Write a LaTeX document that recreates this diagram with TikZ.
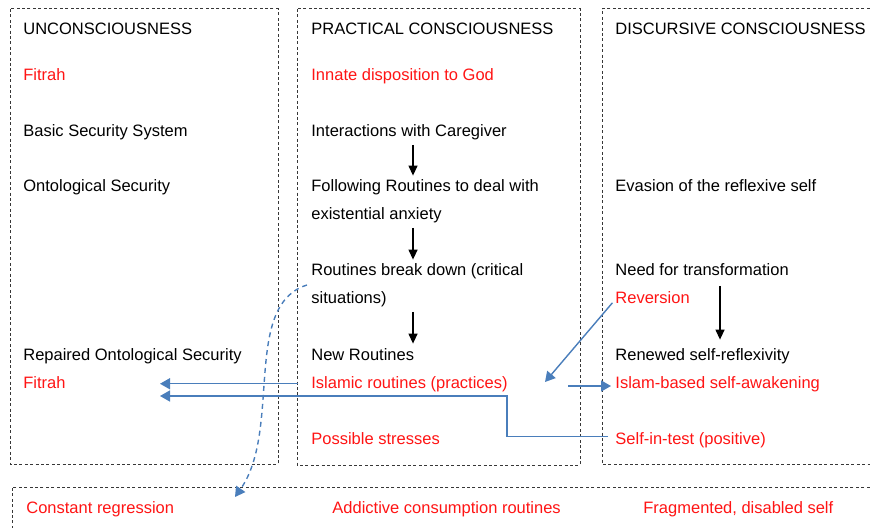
\documentclass[tikz,border=0pt]{standalone}
\usepackage{fontspec}
\setmainfont{Liberation Sans}
\usetikzlibrary{arrows.meta}
\definecolor{linkblue}{RGB}{74,126,187}
\definecolor{framegray}{RGB}{55,55,55}
\definecolor{notered}{RGB}{255,20,20}

\begin{document}
\begin{tikzpicture}[
        x=0.5pt, y=-0.5pt,
        every node/.style={font=\fontsize{8.25}{10}\selectfont,inner sep=0pt,anchor=base west,text height=6pt,text depth=1.75pt},
        redtext/.style={text=notered},
        frame/.style={draw=framegray,line width=0.5pt,dash pattern=on 1.5pt off 1.2pt},
        stepdown/.style={-{Triangle[length=5pt,width=4.5pt]},line width=0.65pt,shorten <=2pt,shorten >=2pt},
        bluelink/.style={-{Triangle[length=5pt,width=5.5pt]},draw=linkblue,line width=0.7pt}
    ]
        \useasboundingbox (0,0) rectangle (870,528);

        \draw [frame] (10,9) rectangle (278,464);
        \draw [frame] (297,9) rectangle (580,465);
        \draw [frame] (875,9) -- (602,9) -- (602,464) -- (875,464);
        \draw [frame] (875,487) -- (12,487) -- (12,533);

        \node (unc)       at (23,35)  {UNCONSCIOUSNESS};
        \node [redtext] (fitrahA)  at (23,81)  {Fitrah};
        \node (basic)     at (23,137) {Basic Security System};
        \node (onto)      at (23,192) {Ontological Security};
        \node (repaired)  at (23,360) {Repaired Ontological Security};
        \node [redtext] (fitrahB)  at (23,388) {Fitrah};

        \node (prac)      at (311,35)  {PRACTICAL CONSCIOUSNESS};
        \node [redtext] (innate)   at (311,81)  {Innate disposition to God};
        \node (interact)  at (311,137) {Interactions with Caregiver};
        \node (follow)    at (311,192) {Following Routines to deal with};
        \node (followb)   at (311,220) {existential anxiety};
        \node (breakdown) at (311,276) {Routines break down (critical};
        \node (breakdownb) at (311,304) {situations)};
        \node (newrout)   at (311,360) {New Routines};
        \node [redtext] (islamic)  at (311,388) {Islamic routines (practices)};
        \node [redtext] (stresses) at (311,444) {Possible stresses};

        \node (disc)      at (615,35)  {DISCURSIVE CONSCIOUSNESS};
        \node (evasion)   at (615,192) {Evasion of the reflexive self};
        \node (need)      at (615,276) {Need for transformation};
        \node [redtext] (reversion) at (615,304) {Reversion};
        \node (renewed)   at (615,360) {Renewed self-reflexivity};
        \node [redtext] (awaken)   at (615,388) {Islam-based self-awakening};
        \node [redtext] (selftest) at (615,444) {Self-in-test (positive)};

        \node [redtext] (regression) at (26,513)  {Constant regression};
        \node [redtext] (addictive)  at (332,513) {Addictive consumption routines};
        \node [redtext] (fragmented) at (643,513) {Fragmented, disabled self};

        \coordinate (colB) at (413,0);
        \coordinate (colC) at (720,0);
        \coordinate (fitrahin) at (160,0);
        \coordinate (stepx) at (507,396);
        \coordinate (awakenfrom) at (568,386);
        \coordinate (reversionto) at (545,382);
        \coordinate (regstart) at (307,285);
        \coordinate (regend) at (235,497);

        \draw [stepdown] (interact.south -| colB) -- (follow.north -| colB);
        \draw [stepdown] (followb.south -| colB) -- (breakdown.north -| colB);
        \draw [stepdown] (breakdownb.south -| colB) -- (newrout.north -| colB);
        \draw [stepdown,shorten <=3pt,shorten >=4pt] (need.south -| colC) -- (renewed.north -| colC);

        \draw [bluelink,shorten <=6.5pt] (islamic.west) -- (islamic.west -| fitrahin);
        \draw [bluelink,shorten <=3.5pt] ([yshift=1.5pt]selftest.west) -| (stepx) -- (stepx -| fitrahin);
        \draw [bluelink,shorten >=2pt] (awakenfrom) -- (awakenfrom -| awaken.west);
        \draw [bluelink,shorten <=2pt] (reversion.west) -- (reversionto);
        \draw [bluelink,dash pattern=on 2.5pt off 2pt] (regstart) .. controls (242,305) and (282,430) .. (regend);
    \end{tikzpicture}
\end{document}
